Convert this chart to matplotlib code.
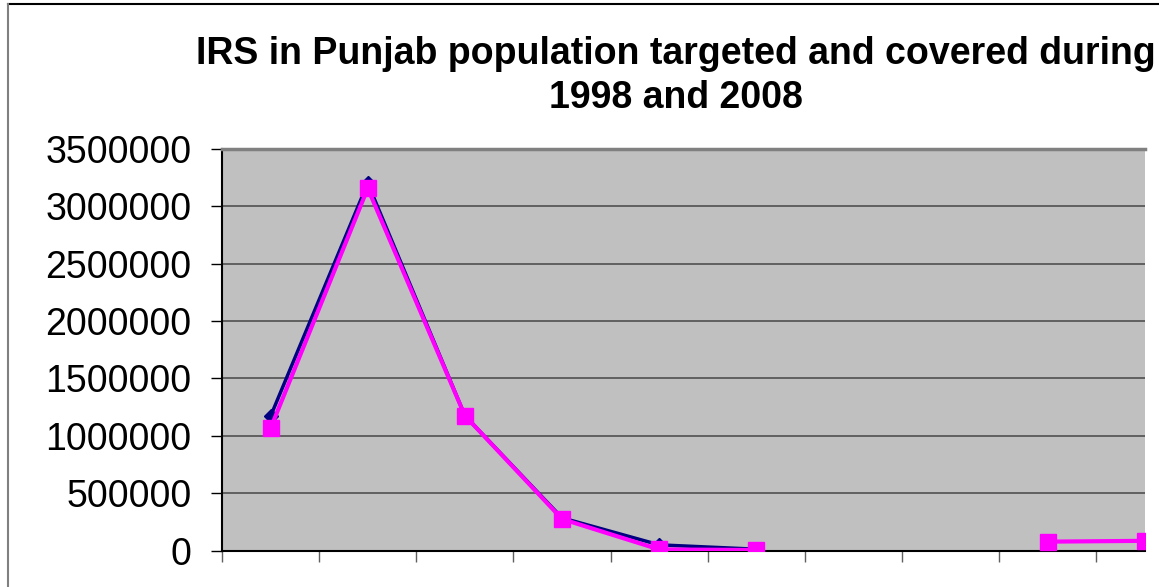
import numpy as np
import matplotlib
matplotlib.use('Agg')
from matplotlib import pyplot as plt
from matplotlib.lines import Line2D

# Data #
years = ['1998', '1999', '2000', '2001', '2002', '2003', '2004', '2005', '2006', '2007', '2008']
targeted = [1170000, 3200000, 1175000, 285000, 50000, 12000, None, None, None, None, None]
covered = [1065000, 3155000, 1175000, 275000, 10000, 5000, None, None, 78000, 85000, None]

plt.rcParams['font.family'] = ['Liberation Sans', 'DejaVu Sans']

W, H = 1159, 587
fig = plt.figure(figsize=(W / 100, H / 100), dpi=100)

# plot area in pixel terms
left, right, top, bottom = 222, 1145, 148.7, 550.6
ax = fig.add_axes([left / W, (H - bottom) / H, (right - left) / W, (bottom - top) / H])
ax.set_facecolor('#C0C0C0')

x = np.arange(len(years))
t = np.array([np.nan if v is None else v for v in targeted], dtype=float)
c = np.array([np.nan if v is None else v for v in covered], dtype=float)

ax.plot(x, t, color='#000080', lw=2.5, marker='D', markersize=7, zorder=3)
ax.plot(x, c, color='#FF00FF', lw=3, marker='s', markersize=12, zorder=4)

ax.set_yticks(np.arange(0, 3500001, 500000))
ax.set_yticklabels([str(v) for v in range(0, 3500001, 500000)], fontsize=27)
ax.set_xticks(np.arange(-0.5, 10, 1))
ax.set_xticklabels([])
ax.set_ylim(0, 3500000)
ax.set_xlim(-0.5, 9.0)
ax.tick_params(axis='y', direction='out', length=8, width=1, color='black', pad=14)
ax.tick_params(axis='x', direction='out', length=8, width=1, color='#606060')

ax.grid(axis='y', color='#505050', lw=1.2)
ax.set_axisbelow(True)
ax.spines['top'].set_color('#808080')
ax.spines['top'].set_linewidth(2.5)
ax.spines['right'].set_visible(False)
ax.spines['left'].set_color('black')
ax.spines['left'].set_linewidth(1.5)
ax.spines['bottom'].set_color('black')
ax.spines['bottom'].set_linewidth(1.5)

# Title #
fig.text(676 / W, 1 - 76 / H, 'IRS in Punjab population targeted and covered during\n1998 and 2008',
         ha='center', va='center', fontsize=27, fontweight='bold', linespacing=1.32)

# chart border
fig.add_artist(Line2D([8 / W, 1], [1 - 4 / H, 1 - 4 / H], color='black', lw=1.5, transform=fig.transFigure))
fig.add_artist(Line2D([8 / W, 8 / W], [0, 1 - 4 / H], color='#808080', lw=1.5, transform=fig.transFigure))

plt.savefig('out.png', dpi=100)
